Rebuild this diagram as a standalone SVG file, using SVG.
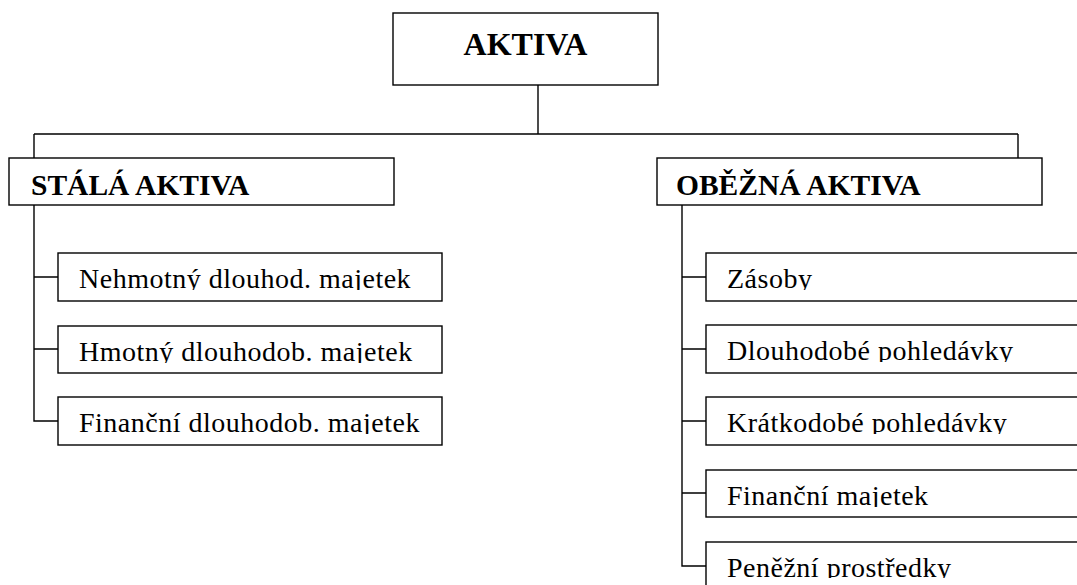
<svg xmlns="http://www.w3.org/2000/svg" width="1077" height="585" viewBox="0 0 1077 585">
<style>
.box{fill:#fff;stroke:#000;stroke-width:1.4}
.ln{fill:none;stroke:#000;stroke-width:1.4}
.h{font-family:"Liberation Serif","Times New Roman",serif;font-weight:bold;fill:#000}
.t{font-family:"Liberation Serif","Times New Roman",serif;font-size:28px;letter-spacing:0.5px;fill:#000}
</style>
<defs>
<clipPath id="c1"><rect x="58" y="253" width="384" height="37"/></clipPath>
<clipPath id="c2"><rect x="58" y="326" width="384" height="37"/></clipPath>
<clipPath id="c3"><rect x="58" y="397" width="384" height="37"/></clipPath>
<clipPath id="d1"><rect x="706" y="253" width="380" height="37"/></clipPath>
<clipPath id="d2"><rect x="706" y="325" width="380" height="37"/></clipPath>
<clipPath id="d3"><rect x="706" y="397" width="380" height="37"/></clipPath>
<clipPath id="d4"><rect x="706" y="470" width="380" height="37"/></clipPath>
<clipPath id="d5"><rect x="706" y="542" width="380" height="36"/></clipPath>
</defs>
<g id="connectors">
<path class="ln" d="M538 85V134M34 134H1018M34 134V158M1018 134V158"/>
<path class="ln" d="M34 205V421H58M34 277H58M34 349H58"/>
<path class="ln" d="M682 205V566H706M682 277H706M682 349H706M682 421H706M682 493H706"/>
</g>
<g id="aktiva"><rect class="box" x="393" y="13" width="265" height="72"/><text class="h" x="525.5" y="55" font-size="32" text-anchor="middle">AKTIVA</text></g>
<g id="stala"><rect class="box" x="9" y="158" width="385" height="47"/><text class="h" x="31" y="195" font-size="29.5">STÁLÁ AKTIVA</text></g>
<g id="obezna"><rect class="box" x="657" y="158" width="385" height="47"/><text class="h" x="676" y="195" font-size="29.5">OBĚŽNÁ AKTIVA</text></g>
<g id="s1"><rect class="box" x="58" y="253" width="384" height="48"/><text class="t" x="79" y="288" clip-path="url(#c1)">Nehmotný dlouhod. majetek</text></g>
<g id="s2"><rect class="box" x="58" y="326" width="384" height="47"/><text class="t" x="79" y="361" clip-path="url(#c2)">Hmotný dlouhodob. majetek</text></g>
<g id="s3"><rect class="box" x="58" y="397" width="384" height="48"/><text class="t" x="79" y="432" clip-path="url(#c3)">Finanční dlouhodob. majetek</text></g>
<g id="o1"><rect class="box" x="706" y="253" width="380" height="48"/><text class="t" x="727" y="288" clip-path="url(#d1)">Zásoby</text></g>
<g id="o2"><rect class="box" x="706" y="325" width="380" height="48"/><text class="t" x="727" y="360" clip-path="url(#d2)">Dlouhodobé pohledávky</text></g>
<g id="o3"><rect class="box" x="706" y="397" width="380" height="48"/><text class="t" x="727" y="432" clip-path="url(#d3)">Krátkodobé pohledávky</text></g>
<g id="o4"><rect class="box" x="706" y="470" width="380" height="47"/><text class="t" x="727" y="505" clip-path="url(#d4)">Finanční majetek</text></g>
<g id="o5"><rect class="box" x="706" y="542" width="380" height="60"/><text class="t" x="727" y="577" clip-path="url(#d5)">Peněžní prostředky</text></g>
</svg>
